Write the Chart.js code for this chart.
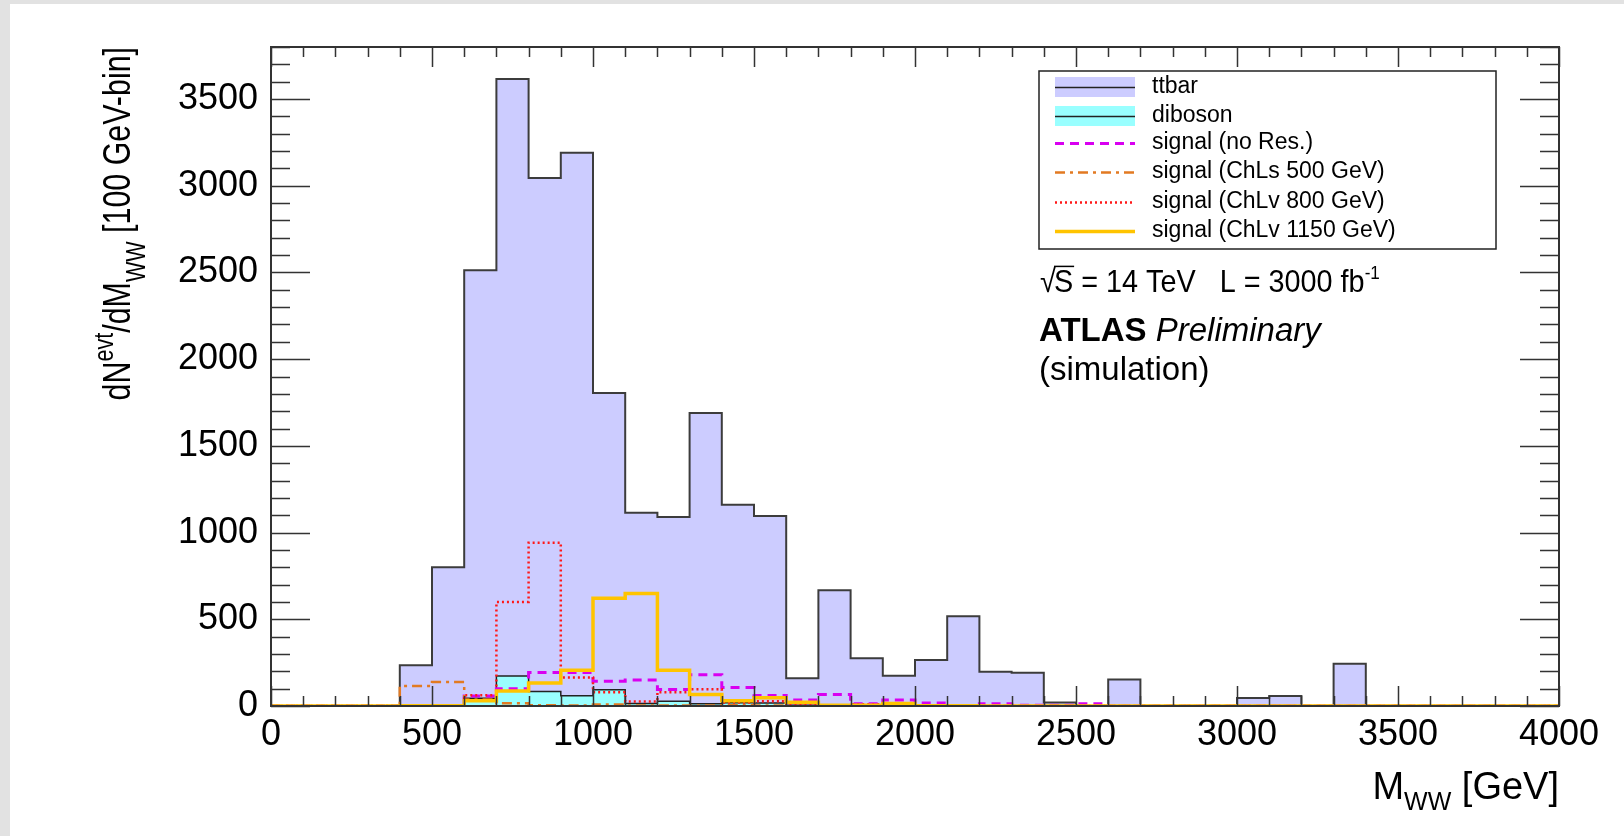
<!DOCTYPE html>
<html>
<head>
<meta charset="utf-8">
<script src="https://cdn.jsdelivr.net/npm/chart.js@4.4.1/dist/chart.umd.min.js"></script>
<style>
html,body{margin:0;padding:0;background:#e2e2e2;overflow:hidden;}
#card{position:absolute;left:10px;top:4px;width:1614px;height:832px;background:#fff;}
#c{position:absolute;left:0;top:0;}
</style>
</head>
<body>
<div id="card"></div>
<canvas id="c" width="1624" height="836"></canvas>
<script>
// bin low edges [GeV], 100 GeV bins
const binLow = [0,100,200,300,400,500,600,700,800,900,1000,1100,1200,1300,1400,1500,1600,1700,1800,1900,
2000,2100,2200,2300,2400,2500,2600,2700,2800,2900,3000,3100,3200,3300,3400,3500,3600,3700,3800,3900];
const binEnd = 4000;

const ttbar = [0,0,0,0,235,800,2512,3615,3045,3190,1805,1115,1090,1690,1160,1095,160,668,275,175,
265,518,198,192,20,0,153,0,0,0,46,57,0,244,0,0,0,0,0,0];
const diboson = [0,0,0,0,0,0,45,173,84,59,93,15,27,13,19,17,5,3,2,3,
2,1,1,1,0,0,0,0,0,0,0,0,0,0,0,0,0,0,0,0];
const sigNoRes = [0,0,0,0,0,0,58,100,193,193,143,150,95,180,106,60,35,66,13,35,
17,0,13,4,4,13,0,0,0,0,0,0,0,0,0,0,0,0,0,0];
const sigChLs500 = [0,0,0,0,115,138,37,16,5,3,8,3,3,3,4,3,2,1,1,0,
0,0,0,0,0,0,0,0,0,0,0,0,0,0,0,0,0,0,0,0];
const sigChLv800 = [0,0,0,0,0,0,62,600,942,165,80,26,80,97,20,27,13,5,10,15,
5,0,0,0,0,0,0,0,0,0,0,0,0,0,0,0,0,0,0,0];
const sigChLv1150 = [0,0,0,0,2,2,30,87,132,206,622,648,206,66,30,48,21,5,5,14,
2,1,0,0,0,0,0,0,0,0,0,0,0,0,0,0,0,0,0,0];

const seriesNames = ["ttbar","diboson","signal (no Res.)","signal (ChLs 500 GeV)","signal (ChLv 800 GeV)","signal (ChLv 1150 GeV)"];

const xTicks = [0,500,1000,1500,2000,2500,3000,3500,4000];
const yTicks = [0,500,1000,1500,2000,2500,3000,3500];

const FONT = "'Liberation Sans', Arial, Helvetica, sans-serif";

function steps(vals){
  const pts = binLow.map((b,i)=>({x:b,y:vals[i]}));
  pts.push({x:binEnd,y:vals[vals.length-1]});
  return pts;
}

function hist(label,vals,o){
  return Object.assign({
    type:'line',label:label,data:steps(vals),stepped:true,
    pointRadius:0,fill:false,tension:0,borderJoinStyle:'miter'
  },o);
}

const datasets = [
  hist(seriesNames[0],ttbar,{borderColor:'#3c3c3c',borderWidth:2,backgroundColor:'#ccccff',fill:'origin',order:6}),
  hist(seriesNames[1],diboson,{borderColor:'#222',borderWidth:1.5,backgroundColor:'#99ffff',fill:'origin',order:5}),
  hist(seriesNames[2],sigNoRes,{borderColor:'#d800f0',borderWidth:3,borderDash:[9,6],order:4}),
  hist(seriesNames[3],sigChLs500,{borderColor:'#e27a22',borderWidth:2.5,borderDash:[10,5,3,5],order:3}),
  hist(seriesNames[4],sigChLv800,{borderColor:'#ff1818',borderWidth:2.5,borderDash:[2,3],order:2}),
  hist(seriesNames[5],sigChLv1150,{borderColor:'#ffc400',borderWidth:3.5,order:1})
];

// rich text: parts [{t, s(size factor), dy(factor), w(weight), st(style)}]
function setFont(ctx,p,size){
  ctx.font=(p.st||'normal')+' '+(p.w||'normal')+' '+Math.round(size*(p.s||1))+'px '+FONT;
}
function richWidth(ctx,parts,size){
  let w=0;
  parts.forEach(p=>{ setFont(ctx,p,size); w+=ctx.measureText(p.t).width; });
  return w;
}
function drawRich(ctx,parts,x,y,size){
  let cx=x;
  parts.forEach(p=>{
    setFont(ctx,p,size);
    ctx.fillText(p.t,cx,y+(p.dy||0)*size);
    cx+=ctx.measureText(p.t).width;
  });
  return cx;
}

const rootFrame = {
  id:'rootFrame',
  afterDatasetsDraw(chart){
    const {ctx,chartArea:a,scales:{x,y}} = chart;
    ctx.save();
    ctx.strokeStyle='#333';
    ctx.lineWidth=1.5;
    ctx.setLineDash([]);
    ctx.beginPath();
    // x ticks, inside, bottom and top
    for(let v=0; v<=4000; v+=100){
      const px=Math.round(x.getPixelForValue(v))+0.5;
      const len = v%500===0 ? 20 : 10;
      ctx.moveTo(px,a.bottom); ctx.lineTo(px,a.bottom-len);
      ctx.moveTo(px,a.top); ctx.lineTo(px,a.top+len);
    }
    // y ticks, inside, left and right
    for(let v=0; v<=3800; v+=100){
      const py=Math.round(y.getPixelForValue(v))+0.5;
      const len = v%500===0 ? 39 : 19;
      ctx.moveTo(a.left,py); ctx.lineTo(a.left+len,py);
      ctx.moveTo(a.right,py); ctx.lineTo(a.right-len,py);
    }
    ctx.stroke();
    ctx.lineWidth=2;
    ctx.strokeRect(a.left,a.top,a.right-a.left,a.bottom-a.top);
    ctx.restore();
  },
  afterDraw(chart){
    const {ctx,chartArea:a} = chart;
    ctx.save();
    ctx.fillStyle='#000';
    ctx.textBaseline='alphabetic';
    ctx.textAlign='left';

    // y axis title, rotated, right aligned to frame top
    const yt=[{t:'dN'},{t:'evt',s:0.7,dy:-0.45},{t:'/dM'},{t:'WW',s:0.7,dy:0.4},{t:' [100 GeV-bin]'}];
    const ys=38, ysq=0.8;
    const yw=richWidth(ctx,yt,ys)*ysq;
    ctx.save();
    ctx.translate(130,a.top);
    ctx.rotate(-Math.PI/2);
    ctx.scale(ysq,1);
    drawRich(ctx,yt,-yw/ysq,0,ys);
    ctx.restore();

    // x axis title, right aligned to frame right
    const xt=[{t:'M'},{t:'WW',s:0.65,dy:0.28},{t:' [GeV]'}];
    const xs=38;
    const xw=richWidth(ctx,xt,xs);
    drawRich(ctx,xt,a.right-xw,799,xs);

    // legend box
    const lx=1039, ly=71, lw=457, lh=178;
    ctx.fillStyle='#fff';
    ctx.fillRect(lx,ly,lw,lh);
    ctx.strokeStyle='#222';
    ctx.lineWidth=1.5;
    ctx.strokeRect(lx,ly,lw,lh);
    const rows=[87,116,143,172,202,231];
    chart.data.datasets.forEach((ds,i)=>{
      const ry=rows[i];
      if(ds.fill){
        ctx.fillStyle=ds.backgroundColor;
        ctx.fillRect(1055,ry-10,80,20);
        ctx.strokeStyle='#222';
        ctx.lineWidth=1.5;
        ctx.setLineDash([]);
      } else {
        ctx.strokeStyle=ds.borderColor;
        ctx.lineWidth=ds.borderWidth;
        ctx.setLineDash(ds.borderDash||[]);
      }
      ctx.beginPath();
      ctx.moveTo(1055,ry+0.5); ctx.lineTo(1135,ry+0.5);
      ctx.stroke();
      ctx.setLineDash([]);
      ctx.fillStyle='#000';
      ctx.font='23px '+FONT;
      ctx.textBaseline='middle';
      ctx.fillText(ds.label,1152,ry);
    });
    ctx.textBaseline='alphabetic';

    // annotations
    const as=32;
    ctx.save();
    ctx.translate(1040,292);
    ctx.scale(0.9,1);
    ctx.font=as+'px '+FONT;
    ctx.fillText('\u221A',0,0);
    const sx=ctx.measureText('\u221A').width-2;
    ctx.fillText('S',sx,0);
    const sw=ctx.measureText('S').width;
    ctx.strokeStyle='#000';
    ctx.lineWidth=1.5;
    ctx.beginPath();
    ctx.moveTo(sx,-as*0.8); ctx.lineTo(sx+sw+1,-as*0.8);
    ctx.stroke();
    drawRich(ctx,[{t:' = 14 TeV   L = 3000 fb'},{t:'-1',s:0.6,dy:-0.42}],sx+sw,0,as);
    ctx.restore();
    drawRich(ctx,[{t:'ATLAS',w:'bold'},{t:' '},{t:'Preliminary',st:'italic'}],1039,341,33);
    ctx.font='33px '+FONT;
    ctx.fillText('(simulation)',1039,380);
    ctx.restore();
  }
};

new Chart(document.getElementById('c'),{
  type:'line',
  data:{datasets:datasets},
  options:{
    responsive:false,
    animation:false,
    events:[],
    layout:{padding:{left:0,right:65,top:47,bottom:0}},
    plugins:{legend:{display:false},tooltip:{enabled:false}},
    scales:{
      x:{
        type:'linear',min:0,max:4000,
        grid:{display:false,drawTicks:false},
        border:{display:false},
        ticks:{font:{size:36,family:FONT},color:'#000',padding:7,maxRotation:0,autoSkip:false,callback:v=>String(v)},
        afterBuildTicks:s=>{s.ticks=xTicks.map(v=>({value:v}));},
        afterFit:s=>{s.height=130;}
      },
      y:{
        type:'linear',min:0,max:3800,
        grid:{display:false,drawTicks:false},
        border:{display:false},
        ticks:{font:{size:36,family:FONT},color:'#000',padding:13,autoSkip:false,callback:v=>String(v)},
        afterBuildTicks:s=>{s.ticks=yTicks.map(v=>({value:v}));},
        afterFit:s=>{s.width=271;}
      }
    }
  },
  plugins:[rootFrame]
});
</script>
</body>
</html>
